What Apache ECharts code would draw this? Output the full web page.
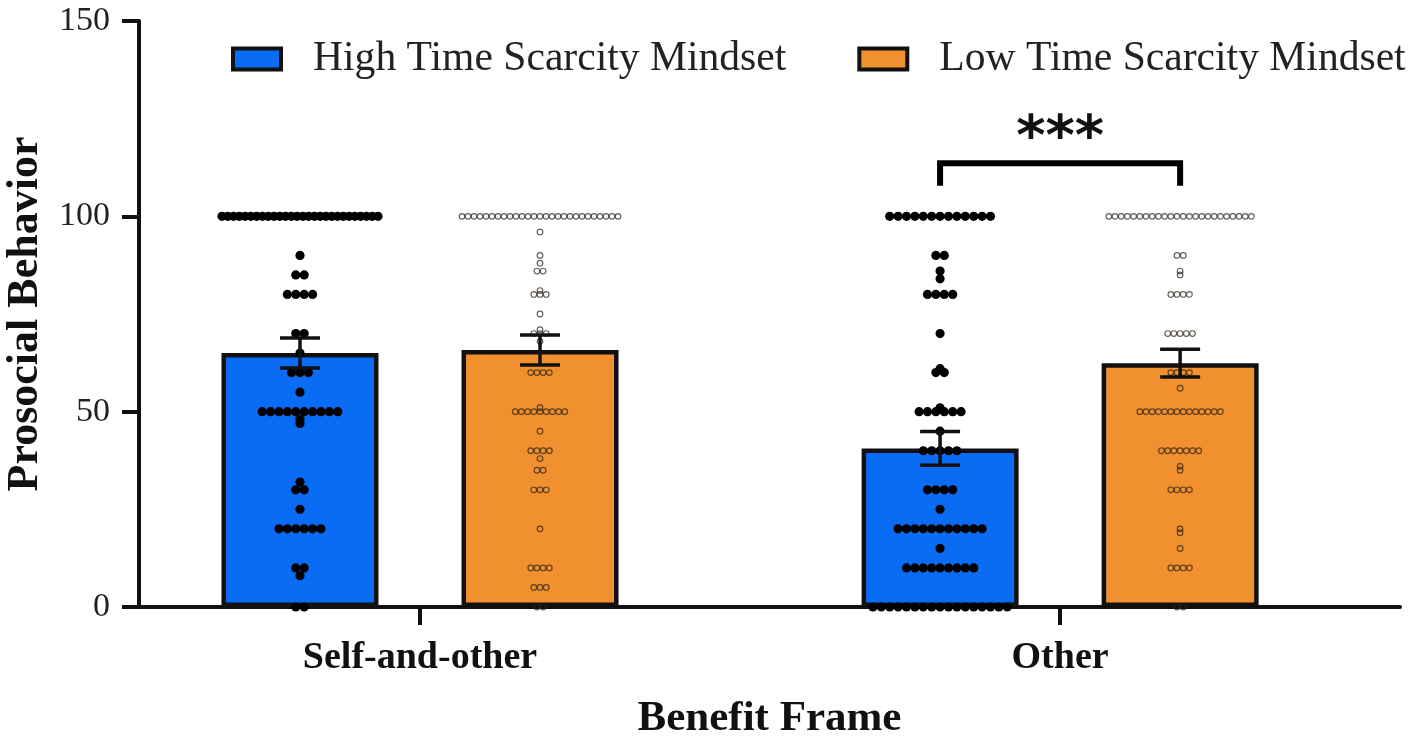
<!DOCTYPE html>
<html>
<head>
<meta charset="utf-8">
<script src="https://cdn.jsdelivr.net/npm/echarts@6/dist/echarts.min.js"></script>
<style>
  html, body { margin: 0; padding: 0; background: #ffffff; }
  #chart { width: 1417px; height: 738px; }
</style>
</head>
<body>
<div id="chart"></div>
<script>
// ---------------- data ----------------
const categories = ['Self-and-other', 'Other'];
const seriesNames = ['High Time Scarcity Mindset', 'Low Time Scarcity Mindset'];
const yTicks = [0, 50, 100, 150];

// bar heights (means) and standard errors, per category
const highMeans = [65.0, 40.6];
const highSems  = [3.85, 4.3];
const lowMeans  = [65.8, 62.4];
const lowSems   = [3.85, 3.55];

// individual observations: distinct values and how many participants gave each
const highSelfValues = [100, 90, 85, 80, 70, 65, 60, 55, 50, 48, 47, 32, 30, 25, 20, 10, 8, 0];
const highSelfCounts = [ 28,  1,  2,  4,  2,  1,  3,  1, 10,  1,  1,  1,  2,  1,  6,  2, 1, 2];

const lowSelfValues = [100, 96, 90, 88, 86, 81, 80, 75, 71, 70, 68, 60, 51, 50, 45, 40, 38, 35, 30, 20, 10, 5, 0];
const lowSelfCounts = [ 27,  1,  1,  1,  2,  1,  3,  1,  1,  3,  1,  4,  1,  9,  1,  4,  1,  2,  3,  1,  4, 3, 2];

const highOtherValues = [100, 90, 86, 84, 80, 70, 61, 60, 51, 50, 45, 40, 30, 25, 20, 15, 10, 0];
const highOtherCounts = [ 13,  2,  1,  1,  4,  1,  1,  2,  1,  6,  1,  5,  4,  1, 11,  1,  9, 17];

const lowOtherValues = [100, 90, 86, 85, 80, 70, 60, 56, 50, 40, 36, 35, 30, 20, 19, 15, 10, 0];
const lowOtherCounts = [ 24,  2,  1,  1,  4,  5,  4,  1, 14,  7,  1,  1,  4,  1,  1,  1,  4, 2];

// significance annotation between the two "Other" bars
const sigLabel = '***';
const sigBracket = [113.6, 107.8, 119.6]; // bracket top, bracket feet, label level (y units)

// ---------------- layout helpers ----------------
const groupPos = [0, 1];      // category centres on the numeric x axis
const barOffset = 0.1875;     // half distance between paired bars
const xMin = -0.439, xMax = 1.531;

const BLUE = '#0a6cf4';
const ORANGE = '#f0902e';
const FONT = "'Liberation Serif', 'Times New Roman', serif";

const highX = groupPos.map(p => p - barOffset);
const lowX  = groupPos.map(p => p + barOffset);

function dotData(x, values, counts) {
  const out = [];
  values.forEach((v, i) => {
    const n = counts[i];
    for (let k = 0; k < n; k++) out.push([x, v, k, n]);
  });
  return out;
}

const highDots = dotData(highX[0], highSelfValues, highSelfCounts)
  .concat(dotData(highX[1], highOtherValues, highOtherCounts));
const lowDots = dotData(lowX[0], lowSelfValues, lowSelfCounts)
  .concat(dotData(lowX[1], lowOtherValues, lowOtherCounts));

function dotRenderer(filled) {
  return function (params, api) {
    const c = api.coord([api.value(0), api.value(1)]);
    const idx = api.value(2), n = api.value(3);
    const pitch = filled ? 8.4 : 6.2;
    const sp = n > 1 ? Math.min(pitch, 156 / (n - 1)) : 0;
    const x = c[0] + (idx - (n - 1) / 2) * sp;
    if (filled) {
      return { type: 'circle', shape: { cx: x, cy: c[1], r: 4.6 }, style: { fill: '#000' } };
    }
    return {
      type: 'circle', shape: { cx: x, cy: c[1], r: 2.8 },
      style: { fill: 'none', stroke: 'rgba(45,35,25,0.72)', lineWidth: 1.2 }
    };
  };
}

function errRender(params, api) {
  const x = api.value(0), m = api.value(1), s = api.value(2);
  const top = api.coord([x, m + s]);
  const bot = api.coord([x, m - s]);
  const half = 20;
  const st = { stroke: '#111', lineWidth: 3.5 };
  return {
    type: 'group',
    children: [
      { type: 'line', shape: { x1: top[0], y1: top[1], x2: bot[0], y2: bot[1] }, style: st },
      { type: 'line', shape: { x1: top[0] - half, y1: top[1], x2: top[0] + half, y2: top[1] }, style: st },
      { type: 'line', shape: { x1: bot[0] - half, y1: bot[1], x2: bot[0] + half, y2: bot[1] }, style: st }
    ]
  };
}

function sigRender(params, api) {
  const x1 = api.value(0), x2 = api.value(1);
  const yt = api.value(2), yb = api.value(3), yl = api.value(4);
  const a = api.coord([x1, yb]);
  const b = api.coord([x1, yt]);
  const c = api.coord([x2, yt]);
  const d = api.coord([x2, yb]);
  const t = api.coord([(x1 + x2) / 2, yl]);
  return {
    type: 'group',
    children: [
      { type: 'polyline', shape: { points: [a, b, c, d] },
        style: { stroke: '#000', lineWidth: 6, fill: 'none', lineJoin: 'miter' } },
      { type: 'text', x: t[0], y: t[1],
        style: { text: sigLabel, fontSize: 56, fontWeight: 'bold', fontFamily: "'DejaVu Sans', sans-serif",
                 fill: '#111', align: 'center', verticalAlign: 'middle' } }
    ]
  };
}

const chart = echarts.init(document.getElementById('chart'), null, { renderer: 'canvas' });

const barCommon = {
  type: 'bar',
  barWidth: 157,
  barGap: '-100%',
  z: 2
};

chart.setOption({
  animation: false,
  backgroundColor: '#ffffff',
  grid: { left: 139, right: 17, top: 21, bottom: 131, outerBoundsMode: 'none', containLabel: false },
  legend: {
    data: seriesNames,
    icon: 'rect',
    left: 231, top: 38,
    padding: 0,
    itemWidth: 48, itemHeight: 21, itemGap: 71,
    itemStyle: { borderColor: '#111', borderWidth: 4 },
    textStyle: { fontFamily: FONT, fontSize: 41.6, color: '#222', padding: [0, 0, 0, 27] }
  },
  xAxis: {
    type: 'value',
    min: xMin, max: xMax,
    splitLine: { show: false },
    axisLine: { show: true, onZero: false, lineStyle: { color: '#111', width: 4 } },
    axisTick: { show: true, customValues: groupPos, length: 18, lineStyle: { color: '#111', width: 4 } },
    axisLabel: {
      customValues: groupPos,
      formatter: v => categories[Math.round(v)],
      fontFamily: FONT, fontSize: 38, fontWeight: 'bold', color: '#111', margin: 32
    },
    name: 'Benefit Frame',
    nameLocation: 'middle',
    nameGap: 90,
    nameTextStyle: { fontFamily: FONT, fontSize: 43, fontWeight: 'bold', color: '#111' }
  },
  yAxis: {
    type: 'value',
    min: yTicks[0], max: yTicks[yTicks.length - 1], interval: 50,
    splitLine: { show: false },
    axisLine: { show: true, onZero: false, lineStyle: { color: '#111', width: 4 } },
    axisTick: { show: true, length: 17, lineStyle: { color: '#111', width: 4 } },
    axisLabel: { fontFamily: FONT, fontSize: 34, color: '#222', margin: 29 },
    name: 'Prosocial Behavior',
    nameLocation: 'middle',
    nameGap: 91,
    nameTextStyle: { fontFamily: FONT, fontSize: 44, fontWeight: 'bold', color: '#111' }
  },
  series: [
    Object.assign({}, barCommon, {
      name: seriesNames[0],
      color: BLUE,
      itemStyle: { color: BLUE, borderColor: '#111', borderWidth: 4.5 },
      data: highX.map((x, i) => [x, highMeans[i]])
    }),
    Object.assign({}, barCommon, {
      name: seriesNames[1],
      color: ORANGE,
      itemStyle: { color: ORANGE, borderColor: '#111', borderWidth: 4.5 },
      data: lowX.map((x, i) => [x, lowMeans[i]])
    }),
    {
      type: 'custom', name: 'high-points', z: 3, silent: true,
      renderItem: dotRenderer(true), data: highDots
    },
    {
      type: 'custom', name: 'low-points', z: 3, silent: true,
      renderItem: dotRenderer(false), data: lowDots
    },
    {
      type: 'custom', name: 'error', z: 4, silent: true,
      renderItem: errRender,
      data: highX.map((x, i) => [x, highMeans[i], highSems[i]])
        .concat(lowX.map((x, i) => [x, lowMeans[i], lowSems[i]]))
    },
    {
      type: 'custom', name: 'sig', z: 4, silent: true,
      renderItem: sigRender,
      data: [[highX[1], lowX[1], sigBracket[0], sigBracket[1], sigBracket[2]]]
    }
  ]
});
</script>
</body>
</html>
